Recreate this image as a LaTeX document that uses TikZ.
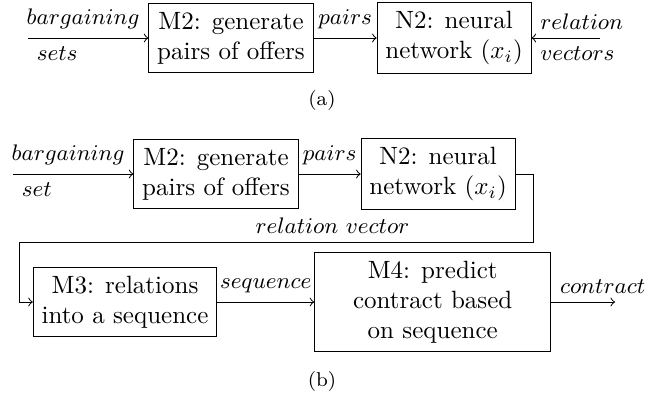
\documentclass[tikz,border=0pt]{standalone}
\usepackage{amsmath}
\usetikzlibrary{positioning}
\begin{document}
\begin{tikzpicture}[x=1pt,y=1pt,
	block/.style={draw,rectangle,align=center},
	lbl/.style={font=\small},
	caption/.style={font=\footnotesize}]
	\useasboundingbox (0,0) rectangle (264.4,-158.4);

	% (a)
	\node[block]								(m2a)	at (92.4,-15.2)	{M2: generate\\pairs of offers};
	\node[block,node distance=25.2pt,right=of m2a]	(n2a)	{N2: neural\\network $(x_i)$};
	\coordinate (ina)	at (11.2,-15.2);
	\coordinate (veca)	at (240,-15.2);
	\node[caption]								(capa)	at (128.8,-40)	{(a)};

	\draw[->] (ina) -- node[lbl,pos=0,below right]{$sets$} node[lbl,pos=1,above left]{$bargaining$} (m2a);
	\draw[->] (m2a) -- node[lbl,above]{$pairs$} (n2a);
	\draw[->] (veca) -- node[lbl,pos=1,above right]{$relation$} node[lbl,pos=1,below right]{$vectors$} (n2a);

	% (b)
	\node[block]								(m2b)	at (86.4,-69.6)	{M2: generate\\pairs of offers};
	\node[block,node distance=24.8pt,right=of m2b]	(n2b)	{N2: neural\\network $(x_i)$};
	\node[block]								(m3)	at (50,-120.8)	{M3: relations\\into a sequence};
	\node[block,minimum width=94.4pt,node distance=38.8pt,right=of m3]	(m4)	{M4: predict\\contract based\\on sequence};
	\coordinate (inb)	at (5.2,-69.6);
	\coordinate (turn)	at (213.2,-96.8);
	\coordinate (back)	at (7.6,-96.8);
	\coordinate (outb)	at (246,-120.8);
	\node[caption]								(capb)	at (128.8,-152.4)	{(b)};

	\draw[->] (inb) -- node[lbl,pos=0,below right]{$set$} node[lbl,pos=1,above left]{$bargaining$} (m2b);
	\draw[->] (m2b) -- node[lbl,above]{$pairs$} (n2b);
	\draw[->] (n2b.east) -- (n2b.east -| turn) -- (turn) -- node[lbl,pos=0.39,above]{$relation\ vector$} (back) |- (m3);
	\draw[->] (m3) -- node[lbl,above]{$sequence$} (m4);
	\draw[->] (m4) -- node[lbl,pos=0,above right]{$contract$} (outb);
\end{tikzpicture}
\end{document}
